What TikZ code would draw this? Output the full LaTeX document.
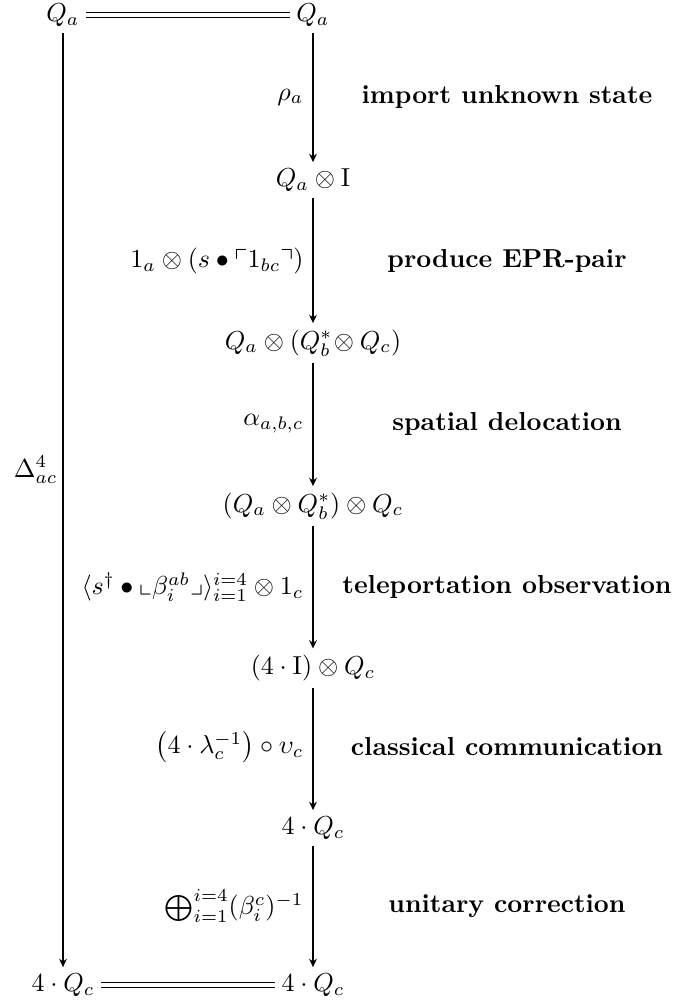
\documentclass[tikz,border=0pt]{standalone}
\usepackage{amsmath,amssymb}
\usetikzlibrary{arrows.meta}
\begin{document}
\begin{tikzpicture}[x=0.3846pt,y=-0.3846pt,
  obj/.style={inner sep=2.5pt,outer sep=0pt},
  lab/.style={inner sep=0pt,anchor=east},
  desc/.style={inner sep=0pt,font=\bfseries},
  rarr/.style={line width=0.8pt,-{Stealth[length=3.2pt,width=3pt]}},
  larr/.style={line width=0.45pt,-{Stealth[length=3.2pt,width=3pt]}},
  eqline/.style={double,double distance=1.3pt,line width=0.4pt}]
\useasboundingbox (0,0) rectangle (677,1005);
% left column
\node[obj] (tl) at (63,15) {$Q_a$};
\node[obj] (bl) at (63,985) {$4\cdot Q_c$};
% right column
\node[obj] (r0) at (313,15) {$Q_a$};
\node[obj] (r1) at (313,180) {$Q_a\otimes \mathrm{I}$};
\node[obj] (r2) at (313,343) {$Q_a\otimes(Q_b^{*}\!\otimes Q_c)$};
\node[obj] (r3) at (313,506) {$(Q_a\otimes Q_b^{*})\otimes Q_c$};
\node[obj] (r4) at (313,668) {$(4\cdot \mathrm{I})\otimes Q_c$};
\node[obj] (r5) at (313,828) {$4\cdot Q_c$};
\node[obj] (r6) at (313,985) {$4\cdot Q_c$};
% connectors
\draw[eqline] (tl) -- (r0);
\draw[eqline] (bl) -- (r6);
\draw[larr] (tl) -- (bl);
\draw[rarr] (r0) -- (r1);
\draw[rarr] (r1) -- (r2);
\draw[rarr] (r2) -- (r3);
\draw[rarr] (r3) -- (r4);
\draw[rarr] (r4) -- (r5);
\draw[rarr] (r5) -- (r6);
% left label
\node[lab] (delta) at (58,470) {$\Delta^{4}_{ac}$};
% arrow labels
\node[lab] (l1) at (304,97) {$\rho_a$};
\node[lab] (l2) at (304,261) {$1_a\otimes(s\bullet\ulcorner 1_{bc}\urcorner)$};
\node[lab] (l3) at (304,424) {$\alpha_{a,b,c}$};
\node[lab] (l4) at (304,587) {$\langle s^{\dagger}\bullet\llcorner\beta_i^{ab}\lrcorner\rangle_{i=1}^{i=4}\otimes 1_c$};
\node[lab] (l5) at (304,747) {$\left(4\cdot\lambda_c^{-1}\right)\circ\upsilon_c$};
\node[lab] (l6) at (304,906) {$\bigoplus_{i=1}^{i=4}(\beta_i^{c})^{-1}$};
% descriptions
\node[desc] (d1) at (507,97) {import unknown state};
\node[desc] (d2) at (507,261) {produce EPR-pair};
\node[desc] (d3) at (507,424) {spatial delocation};
\node[desc] (d4) at (507,587) {teleportation observation};
\node[desc] (d5) at (507,747) {classical communication};
\node[desc] (d6) at (507,906) {unitary correction};
\end{tikzpicture}
\end{document}
